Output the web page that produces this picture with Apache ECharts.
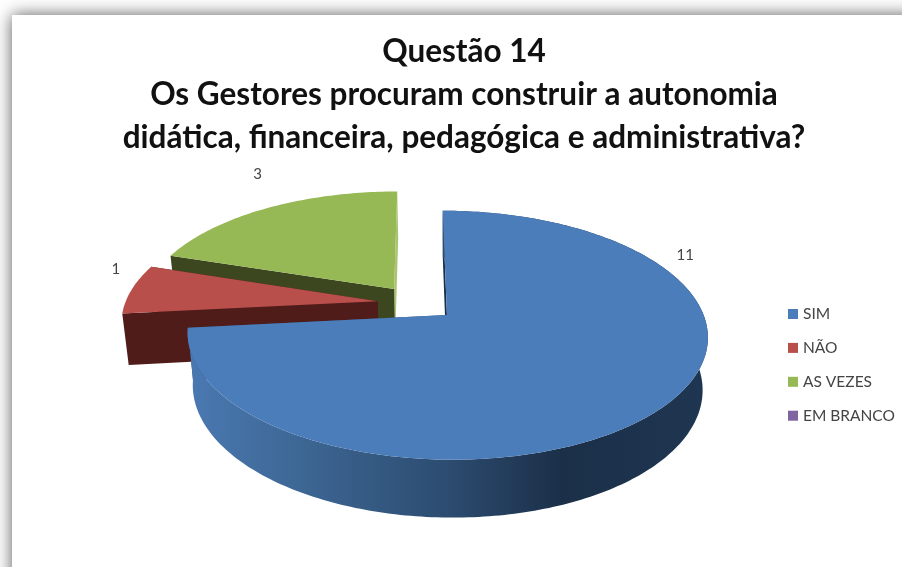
<!DOCTYPE html>
<html>
<head>
<meta charset="utf-8">
<style>html,body{margin:0;padding:0;background:#fff}#chart{width:902px;height:567px}</style>
<script src="https://cdn.jsdelivr.net/npm/echarts@6/dist/echarts.min.js"></script>
</head>
<body>
<div id="chart"></div>
<script>
// Answers to question 14
const categories = ['SIM', 'NÃO', 'AS VEZES', 'EM BRANCO'];
const answers = [11, 1, 3, 0];
const topColors = ['#4c7dbb', '#b94f4b', '#97b955', '#8064a2'];
const sideColors = ['#2c4c70', '#4f1c1a', '#3c4720', '#3a2d4a'];
const titleLines = [
  'Questão 14',
  'Os Gestores procuram construir a autonomia',
  'didática, financeira, pedagógica e administrativa?'
];

// Perspective used for the tilted pie
const view = {
  cx: 417, cy: 303, rx: 252.5, ry: 117.3, persp: 0.16,
  explodeX: 0.157, explodeY: 0.15,
  depth: 51, sideVanishX: 445, sideShrink: 0.98
};
// Where each value label sits: clock angle and distance from the slice tip
const labelSpots = {
  'SIM': { angle: 62.4, dist: 1.15 },
  'NÃO': { angle: 284.5, dist: 1.13 },
  'AS VEZES': { angle: 331, dist: 1.39 }
};

const total = answers.reduce((a, b) => a + b, 0);
const rad = d => d * Math.PI / 180;

// Plane coordinates (unit circle, v pointing away) to the screen, top and bottom rim
function project(u, v) {
  const s = 1 / (1 + view.persp * v);
  const x = view.cx + u * view.rx * s;
  const y = view.cy - view.ry * v * s;
  return {
    top: [x, y],
    bottom: [
      view.sideVanishX + (x - view.sideVanishX) * view.sideShrink,
      y + view.depth * Math.pow(s, 0.66)
    ]
  };
}

function sliceRenderer(index) {
  return function (params, api) {
    const value = api.value(0);
    if (!value) return { type: 'group', children: [] };
    const start = answers.slice(0, index).reduce((a, b) => a + b, 0) / total * 360;
    const sweep = value / total * 360;
    const mid = rad(start + sweep / 2);
    const ou = Math.sin(mid) * view.explodeX;
    const ov = Math.cos(mid) * view.explodeY;
    const apex = project(ou, ov);
    const rim = [];
    for (let a = 0; a <= sweep + 0.001; a += 1) {
      const t = rad(start + a);
      rim.push(project(ou + Math.sin(t), ov + Math.cos(t)));
    }
    const first = rim[0];
    const last = rim[rim.length - 1];
    const side = sideColors[index];
    const startWall = index === 0 ? '#1b2f48' : side;
    const endWall = index === 2 ? '#a9c46f' : side;
    const spot = labelSpots[categories[index]];
    const sp = project(ou + Math.sin(rad(spot.angle)) * spot.dist, ov + Math.cos(rad(spot.angle)) * spot.dist).top;
    const poly = (points, fill) => ({ type: 'polygon', shape: { points }, style: { fill }, silent: true });

    const children = [
      poly([last.top, apex.top, apex.bottom, last.bottom], endWall),
      poly([first.top, apex.top, apex.bottom, first.bottom], startWall)
    ];
    // Only the large front slice shows its curved rim
    if (index === 0) {
      children.push(poly(rim.map(p => p.top).concat(rim.map(p => p.bottom).reverse()), {
        type: 'linear', x: 0, y: 0, x2: 1, y2: 0,
        colorStops: [
          { offset: 0, color: '#4a79b2' },
          { offset: 0.2, color: '#3e6896' },
          { offset: 0.5, color: '#2c4c70' },
          { offset: 0.72, color: '#1b2f48' },
          { offset: 1, color: '#1f3652' }
        ]
      }));
    }
    children.push(poly([apex.top].concat(rim.map(p => p.top)), topColors[index]));
    children.push({
      type: 'text', x: sp[0], y: sp[1], silent: true,
      style: { text: String(value), fill: '#444', font: '15px Lato', align: 'center', verticalAlign: 'middle' }
    });
    return { type: 'group', children };
  };
}

// Back slices are painted first so the front slice overlaps them
const paintOrder = [4, 3, 2, 1];
const series = categories.map((name, i) => ({
  name,
  type: 'custom',
  coordinateSystem: 'none',
  renderItem: sliceRenderer(i),
  data: [[answers[i]]],
  z: paintOrder[i] + 2,
  silent: true,
  itemStyle: { color: topColors[i] }
}));

const chart = echarts.init(document.getElementById('chart'), null, { renderer: 'canvas' });
chart.setOption({
  animation: false,
  backgroundColor: '#fff',
  title: {
    text: titleLines.join('\n'),
    left: 459,
    top: 25.5,
    textAlign: 'center',
    textStyle: { fontFamily: 'Lato', fontWeight: 'bold', fontSize: 31.5, lineHeight: 43, color: '#111' }
  },
  legend: {
    data: categories,
    orient: 'vertical',
    left: 783,
    top: 301,
    itemWidth: 10,
    itemHeight: 10,
    itemGap: 17.9,
    icon: 'rect',
    textStyle: { fontFamily: 'Lato', fontSize: 15.5, color: '#444' }
  },
  graphic: [{
    type: 'rect',
    z: -10,
    silent: true,
    shape: { x: 12, y: 15, width: 1000, height: 700 },
    style: { fill: '#fff', shadowBlur: 16, shadowColor: 'rgba(0,0,0,0.65)' }
  }],
  series
});
</script>
</body>
</html>
